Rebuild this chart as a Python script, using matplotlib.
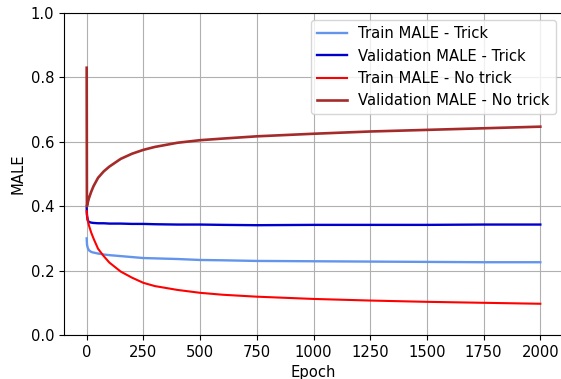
import matplotlib
matplotlib.use('Agg')
import matplotlib.pyplot as plt
import numpy as np

# Values at selected epochs
epochs = [0, 1, 2, 5, 10, 20, 30, 50, 75, 100, 150, 200, 250, 300, 400,
          500, 600, 750, 1000, 1250, 1500, 1750, 2000]

train_trick = [0.300, 0.285, 0.278, 0.270, 0.263, 0.258, 0.256, 0.253, 0.250, 0.248,
               0.245, 0.242, 0.239, 0.238, 0.236, 0.233, 0.232, 0.230, 0.229, 0.228,
               0.227, 0.226, 0.226]
val_trick = [0.395, 0.375, 0.368, 0.356, 0.351, 0.349, 0.348, 0.347, 0.347, 0.346,
             0.346, 0.345, 0.345, 0.344, 0.343, 0.343, 0.342, 0.341, 0.342, 0.342,
             0.342, 0.343, 0.343]
train_notrick = [0.385, 0.375, 0.368, 0.355, 0.340, 0.318, 0.300, 0.268, 0.245, 0.225,
                 0.197, 0.178, 0.162, 0.152, 0.140, 0.131, 0.125, 0.119, 0.112, 0.107,
                 0.103, 0.100, 0.097]
val_notrick = [0.830, 0.400, 0.403, 0.412, 0.425, 0.445, 0.462, 0.488, 0.508, 0.523,
               0.547, 0.563, 0.575, 0.584, 0.597, 0.605, 0.610, 0.617, 0.625, 0.632,
               0.637, 0.642, 0.647]

plt.rcParams['font.size'] = 10.6

fig = plt.figure(figsize=(5.61, 3.79), dpi=100)
ax = fig.add_axes([64/561, 44/379, 499/561, 322/379])

ax.plot(epochs, train_trick, color='cornflowerblue', linewidth=1.7, label='Train MALE - Trick')
ax.plot(epochs, val_trick, color='mediumblue', linewidth=1.7, label='Validation MALE - Trick')
ax.plot(epochs, train_notrick, color='red', linewidth=1.5, label='Train MALE - No trick')
ax.plot(epochs, val_notrick, color='brown', linewidth=1.9, label='Validation MALE - No trick')

ax.set_xlim(-100, 2100)
ax.set_ylim(0, 1.0)
ax.set_xticks(np.arange(0, 2001, 250))
ax.set_yticks(np.arange(0, 1.01, 0.2))
ax.set_xlabel('Epoch')
ax.set_ylabel('MALE')
ax.grid(True, color='#b0b0b0', linewidth=0.8)
ax.set_axisbelow(True)
ax.legend(loc='upper right')

fig.savefig('out.png', dpi=100)
